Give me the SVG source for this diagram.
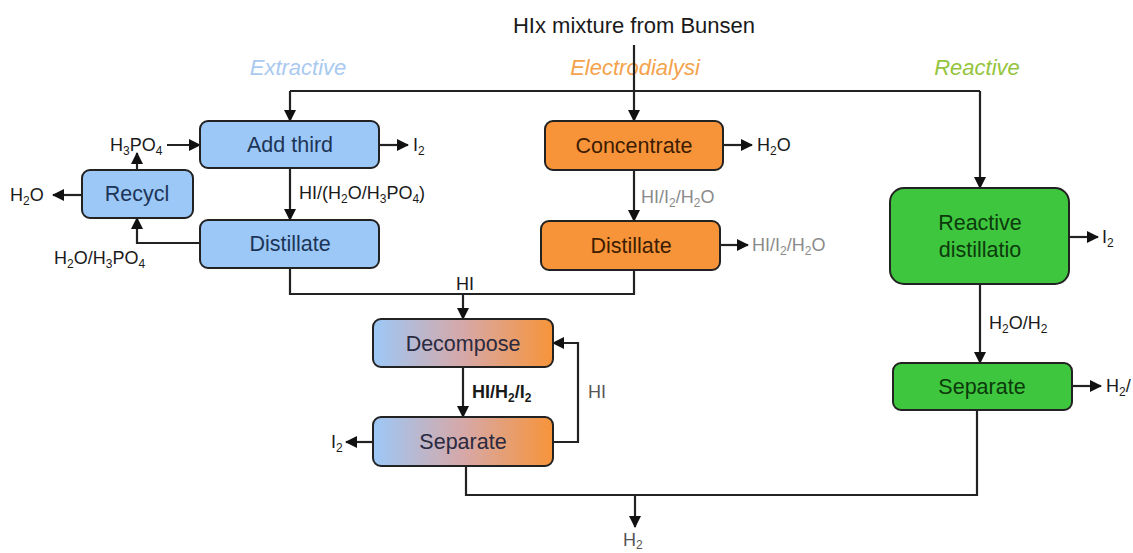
<svg xmlns="http://www.w3.org/2000/svg" width="1133" height="553" viewBox="0 0 1133 553">
<defs>
<marker id="ah" markerWidth="12" markerHeight="12" refX="11" refY="6" orient="auto" markerUnits="userSpaceOnUse">
<path d="M0,0 L12,6 L0,12 z" fill="#111"/>
</marker>
<linearGradient id="mix" x1="0" y1="0" x2="1" y2="0">
<stop offset="0" stop-color="#9cc8f7"/>
<stop offset="0.5" stop-color="#d6a8a8"/>
<stop offset="1" stop-color="#f7943a"/>
</linearGradient>
<style>
.box{stroke:#222;stroke-width:2}
.blue{fill:#9cc8f7}
.orange{fill:#f7943a}
.green{fill:#3ec63e}
.mix{fill:url(#mix)}
.nt{font-family:"Liberation Sans",Arial,sans-serif;font-size:21.5px;text-anchor:middle}
.tb{fill:#1c3557}
.to{fill:#3d1c00}
.tg{fill:#0c3a0c}
.tm{fill:#2a2a40}
.lb{font-family:"Liberation Sans",Arial,sans-serif;font-size:18px;fill:#1a1a1a}
.gray{fill:#8a8a8a}
.dgray{fill:#555}
.s{font-size:12px}
.sec{font-family:"Liberation Sans",Arial,sans-serif;font-size:22px;font-style:italic;text-anchor:middle}
.c{fill:none;stroke:#222;stroke-width:2.2}
.ca{fill:none;stroke:#222;stroke-width:2.2;marker-end:url(#ah)}
</style>
</defs>
<rect width="1133" height="553" fill="#fff"/>

<text x="634" y="33" font-family="Liberation Sans, Arial, sans-serif" font-size="22" fill="#1a1a1a" text-anchor="middle">HIx mixture from Bunsen</text>
<text class="sec" x="298" y="75" fill="#a9c9ef">Extractive</text>
<text class="sec" x="635" y="75" fill="#f4a24c">Electrodialysi</text>
<text class="sec" x="977" y="75" fill="#94c43c">Reactive</text>

<g id="connectors">
<path class="ca" d="M634,45 V121"/>
<path class="c" d="M290,91 H980"/>
<path class="ca" d="M290,91 V121"/>
<path class="ca" d="M980,91 V188"/>
<path class="ca" d="M167,145 H200"/>
<path class="ca" d="M137,170 V153"/>
<path class="ca" d="M82,195 H53"/>
<path class="ca" d="M200,243 H137 V218"/>
<path class="ca" d="M379,145 H408"/>
<path class="ca" d="M290,168 V220"/>
<path class="c" d="M290,268 V294 H634 V270"/>
<path class="ca" d="M463,294 V319"/>
<path class="ca" d="M723,145 H752"/>
<path class="ca" d="M634,170 V221"/>
<path class="ca" d="M720,245 H748"/>
<path class="ca" d="M463,367 V417"/>
<path class="ca" d="M553,442 H578 V343 H553"/>
<path class="ca" d="M373,442 H346"/>
<path class="c" d="M466,466 V495 H977 V410"/>
<path class="ca" d="M635,495 V527"/>
<path class="ca" d="M1069,237 H1098"/>
<path class="ca" d="M980,284 V363"/>
<path class="ca" d="M1072,386 H1101"/>
</g>

<g id="add-third"><rect class="box blue" x="200" y="121" width="179" height="47" rx="8"/><text class="nt tb" x="290" y="152">Add third</text></g>
<g id="recycl"><rect class="box blue" x="82" y="170" width="111" height="48" rx="8"/><text class="nt tb" x="137" y="201">Recycl</text></g>
<g id="distillate-ext"><rect class="box blue" x="200" y="220" width="179" height="48" rx="8"/><text class="nt tb" x="290" y="251">Distillate</text></g>
<g id="concentrate"><rect class="box orange" x="545" y="121" width="178" height="49" rx="8"/><text class="nt to" x="634" y="153">Concentrate</text></g>
<g id="distillate-ed"><rect class="box orange" x="541" y="221" width="179" height="49" rx="8"/><text class="nt to" x="631" y="253">Distillate</text></g>
<g id="reactive-distillation"><rect class="box green" x="890" y="188" width="179" height="96" rx="14"/><text class="nt tg" x="980" y="230">Reactive</text><text class="nt tg" x="980" y="257">distillatio</text></g>
<g id="separate-r"><rect class="box green" x="893" y="363" width="179" height="47" rx="8"/><text class="nt tg" x="982" y="394">Separate</text></g>
<g id="decompose"><rect class="box mix" x="373" y="319" width="180" height="48" rx="8"/><text class="nt tm" x="463" y="351">Decompose</text></g>
<g id="separate-m"><rect class="box mix" x="373" y="417" width="180" height="49" rx="8"/><text class="nt tm" x="463" y="449">Separate</text></g>

<g id="labels">
<text class="lb" x="10" y="201">H<tspan class="s" dy="4">2</tspan><tspan dy="-4">O</tspan></text>
<text class="lb" x="110" y="151">H<tspan class="s" dy="4">3</tspan><tspan dy="-4">PO</tspan><tspan class="s" dy="4">4</tspan></text>
<text class="lb" x="413" y="151">I<tspan class="s" dy="4">2</tspan></text>
<text class="lb" x="299" y="199">HI/(H<tspan class="s" dy="4">2</tspan><tspan dy="-4">O/H</tspan><tspan class="s" dy="4">3</tspan><tspan dy="-4">PO</tspan><tspan class="s" dy="4">4</tspan><tspan dy="-4">)</tspan></text>
<text class="lb" x="54" y="264">H<tspan class="s" dy="4">2</tspan><tspan dy="-4">O/H</tspan><tspan class="s" dy="4">3</tspan><tspan dy="-4">PO</tspan><tspan class="s" dy="4">4</tspan></text>
<text class="lb" x="456" y="290">HI</text>
<text class="lb" x="757" y="151">H<tspan class="s" dy="4">2</tspan><tspan dy="-4">O</tspan></text>
<text class="lb gray" x="641" y="203">HI/I<tspan class="s" dy="4">2</tspan><tspan dy="-4">/H</tspan><tspan class="s" dy="4">2</tspan><tspan dy="-4">O</tspan></text>
<text class="lb gray" x="752" y="251">HI/I<tspan class="s" dy="4">2</tspan><tspan dy="-4">/H</tspan><tspan class="s" dy="4">2</tspan><tspan dy="-4">O</tspan></text>
<text class="lb" x="472" y="398" font-weight="bold" fill="#2a2a2a">HI/H<tspan class="s" dy="4">2</tspan><tspan dy="-4">/I</tspan><tspan class="s" dy="4">2</tspan></text>
<text class="lb dgray" x="588" y="398">HI</text>
<text class="lb" x="331" y="448">I<tspan class="s" dy="4">2</tspan></text>
<text class="lb" x="1102" y="243">I<tspan class="s" dy="4">2</tspan></text>
<text class="lb" x="989" y="329" fill="#333">H<tspan class="s" dy="4">2</tspan><tspan dy="-4">O/H</tspan><tspan class="s" dy="4">2</tspan></text>
<text class="lb" x="1106" y="392" fill="#333">H<tspan class="s" dy="4">2</tspan><tspan dy="-4">/</tspan></text>
<text class="lb dgray" x="623" y="546">H<tspan class="s" dy="3">2</tspan></text>
</g>
</svg>
